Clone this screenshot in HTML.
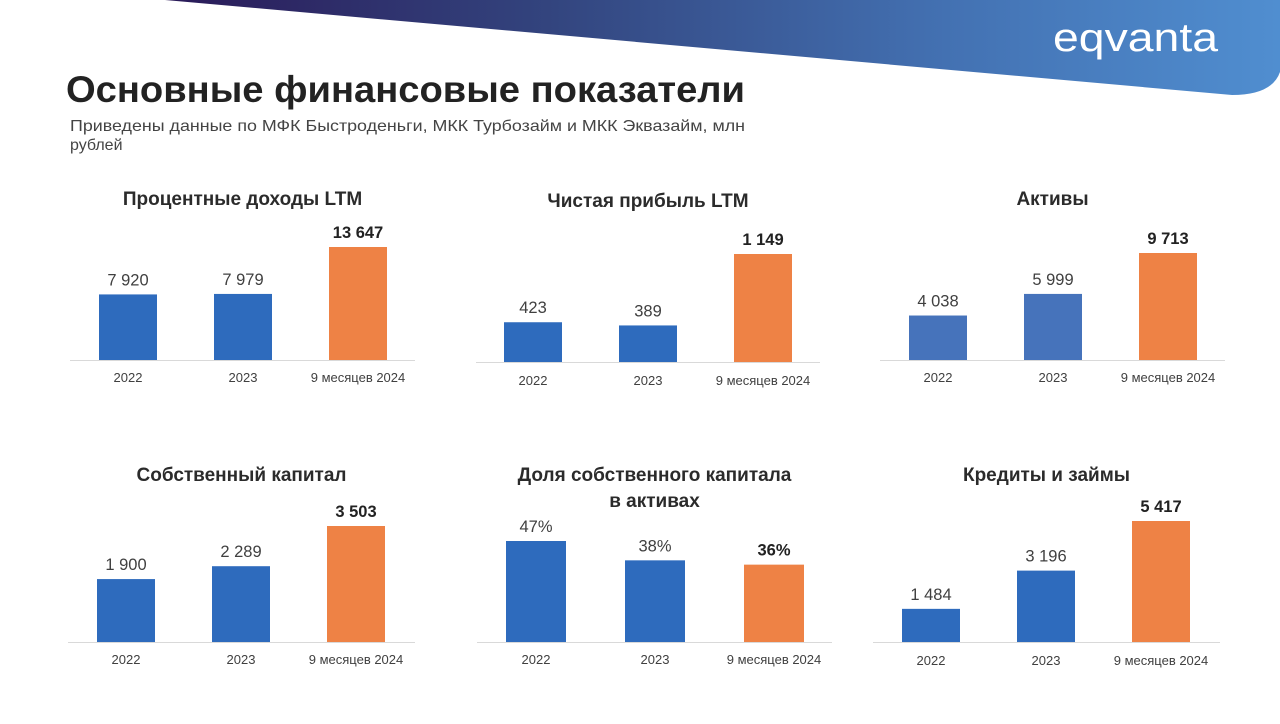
<!DOCTYPE html>
<html><head><meta charset="utf-8">
<style>
html,body{margin:0;padding:0;background:#fff;}
body{width:1280px;height:719px;overflow:hidden;position:relative;font-family:"Liberation Sans","DejaVu Sans",sans-serif;}
svg text{font-family:"Liberation Sans","DejaVu Sans",sans-serif;}
</style></head>
<body>
<svg id="s" width="1280" height="719" viewBox="0 0 1280 719" xmlns="http://www.w3.org/2000/svg">
<defs>
<linearGradient id="g" x1="0" x2="1" y1="0" y2="0">
<stop offset="0" stop-color="#2a1a58"/>
<stop offset="0.35" stop-color="#33457f"/>
<stop offset="0.7" stop-color="#4371b2"/>
<stop offset="1" stop-color="#508ed0"/>
</linearGradient>
</defs>
<path d="M165,0 L1280,0 L1280,72 Q1272,95 1232,95 Z" fill="url(#g)"/>
<text x="1053" y="51" fill="#fff" font-size="40" textLength="165" lengthAdjust="spacingAndGlyphs">eqvanta</text>
<text x="66" y="102" fill="#222" font-size="37" font-weight="bold" textLength="679" lengthAdjust="spacingAndGlyphs">Основные финансовые показатели</text>
<text x="70" y="131" fill="#444" font-size="16" textLength="675" lengthAdjust="spacingAndGlyphs">Приведены данные по МФК Быстроденьги, МКК  Турбозайм и МКК Эквазайм, млн</text>
<text x="70" y="150" fill="#444" font-size="16">рублей</text>
</svg>
<script>
const categories = ["2022","2023","9 месяцев 2024"];
const titles = [["Процентные доходы LTM"],["Чистая прибыль LTM"],["Активы"],["Собственный капитал"],["Доля собственного капитала","в активах"],["Кредиты и займы"]];
const valsIncome = [7920, 7979, 13647];
const valsProfit = [423, 389, 1149];
const valsAssets = [4038, 5999, 9713];
const valsEquity = [1900, 2289, 3503];
const valsShare = [47, 38, 36];
const valsLoans = [1484, 3196, 5417];
const labelsIncome = ["7 920","7 979","13 647"];
const labelsProfit = ["423","389","1 149"];
const labelsAssets = ["4 038","5 999","9 713"];
const labelsEquity = ["1 900","2 289","3 503"];
const labelsShare = ["47%","38%","36%"];
const labelsLoans = ["1 484","3 196","5 417"];

const NS="http://www.w3.org/2000/svg";
const svg=document.getElementById('s');
function mk(t,a,txt){const e=document.createElementNS(NS,t);for(const k in a)e.setAttribute(k,a[k]);if(txt!==undefined)e.textContent=txt;svg.appendChild(e);return e;}

const layouts=[
 {vals:valsIncome,labels:labelsIncome,base:360,x0:99,step:115,bw:58,maxV:13647,maxH:113,ax1:70,ax2:415,titleY:205,catY:382,blue:"#2e6bbd"},
 {vals:valsProfit,labels:labelsProfit,base:362,x0:504,step:115,bw:58,maxV:1149,maxH:108,ax1:476,ax2:820,titleY:207,catY:385,blue:"#2e6bbd"},
 {vals:valsAssets,labels:labelsAssets,base:360,x0:909,step:115,bw:58,maxV:9713,maxH:107,ax1:880,ax2:1225,titleY:205,catY:382,blue:"#4673bb"},
 {vals:valsEquity,labels:labelsEquity,base:642,x0:97,step:115,bw:58,maxV:3503,maxH:116,ax1:68,ax2:415,titleY:481,catY:664,blue:"#2e6bbd"},
 {vals:valsShare,labels:labelsShare,base:642,x0:506,step:119,bw:60,maxV:47,maxH:101,ax1:477,ax2:832,titleY:481,catY:664,blue:"#2e6bbd"},
 {vals:valsLoans,labels:labelsLoans,base:642,x0:902,step:115,bw:58,maxV:5417,maxH:121,ax1:873,ax2:1220,titleY:481,catY:665,blue:"#2e6bbd"}
];
const names=["interest-income","net-profit","assets","equity","equity-share","loans"];
layouts.forEach((L,ci)=>{
  const cx=(L.ax1+L.ax2)/2;
  titles[ci].forEach((t,li)=>{
    const e=mk('text',{x:cx,y:L.titleY+li*26,'text-anchor':'middle','font-size':19,'font-weight':'bold',fill:'#2b2b2b'},t);
    
    
  });
  const ax=mk('line',{x1:L.ax1,x2:L.ax2,y1:L.base+0.5,y2:L.base+0.5,stroke:'#d9d9d9','stroke-width':1});
  
  
  const sc=v=>v/L.maxV*L.maxH;
  L.vals.forEach((v,i)=>{
    const h=sc(v), x=L.x0+i*L.step, last=i===2;
    const r=mk('rect',{x:x,y:L.base-h,width:L.bw,height:h,fill:last?'#ee8245':L.blue});
    
    
    const lt=mk('text',{x:x+L.bw/2,y:L.base-h-9,'text-anchor':'middle','font-size':16.5,'font-weight':last?'bold':'normal',fill:last?'#222':'#404040'},L.labels[i]);
    
    
    const ct=mk('text',{x:x+L.bw/2,y:L.catY,'text-anchor':'middle','font-size':13,fill:'#404040'},categories[i]);
    
    
  });
});
</script>
</body></html>
